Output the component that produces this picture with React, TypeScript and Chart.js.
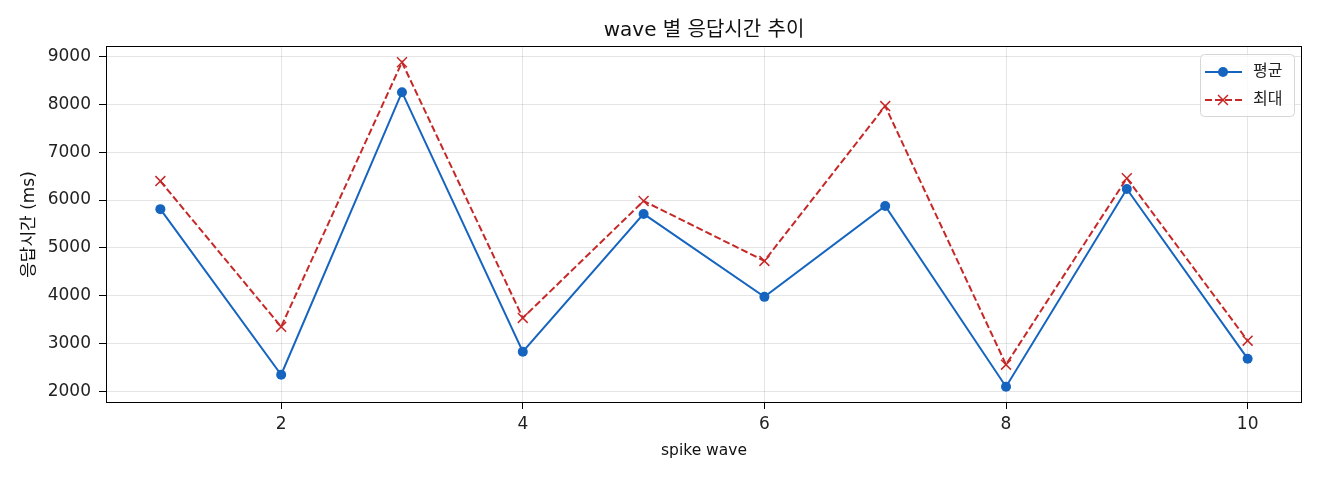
import React, { useEffect, useRef } from "react";
import { Chart, registerables } from "chart.js";

Chart.register(...registerables);

const waves = [1, 2, 3, 4, 5, 6, 7, 8, 9, 10];
const avgMs = [5810, 2355, 8250, 2835, 5710, 3980, 5875, 2105, 6230, 2690];
const maxMs = [6395, 3355, 8875, 3540, 5980, 4730, 7960, 2565, 6455, 3065];
const xTicks = [2, 4, 6, 8, 10];
const yTicks = [2000, 3000, 4000, 5000, 6000, 7000, 8000, 9000];

const FONT = "'DejaVu Sans', 'Noto Sans CJK KR', sans-serif";
const BLUE = "#1565c0";
const RED = "#c62828";

// black frame round the plot area
const framePlugin = {
  id: "frame",
  afterDatasetsDraw(chart: any) {
    const { ctx, chartArea: a } = chart;
    ctx.save();
    ctx.strokeStyle = "#000";
    ctx.lineWidth = 1;
    ctx.strokeRect(a.left + 0.5, a.top + 0.5, a.right - a.left - 1, a.bottom - a.top - 1);
    ctx.restore();
  },
};

function drawMarker(ctx: CanvasRenderingContext2D, style: string, cx: number, cy: number, r: number) {
  ctx.beginPath();
  if (style === "crossRot") {
    const d = r * Math.SQRT1_2;
    ctx.moveTo(cx - d, cy - d);
    ctx.lineTo(cx + d, cy + d);
    ctx.moveTo(cx - d, cy + d);
    ctx.lineTo(cx + d, cy - d);
    ctx.stroke();
  } else {
    ctx.arc(cx, cy, r, 0, Math.PI * 2);
    ctx.fill();
  }
}

// matplotlib-like legend box in the upper right corner
const legendPlugin = {
  id: "mplLegend",
  afterDraw(chart: any) {
    const { ctx, chartArea: a } = chart;
    const w = 94;
    const h = 62;
    const x = a.right - 8 - w;
    const y = a.top + 8;
    ctx.save();
    ctx.fillStyle = "rgba(255,255,255,0.8)";
    ctx.strokeStyle = "#d6d6d6";
    ctx.lineWidth = 1;
    ctx.beginPath();
    ctx.roundRect(x + 0.5, y + 0.5, w, h, 4);
    ctx.fill();
    ctx.stroke();
    chart.data.datasets.forEach((ds: any, i: number) => {
      const cy = y + 18 + i * 28;
      ctx.strokeStyle = ds.borderColor;
      ctx.lineWidth = ds.borderWidth;
      ctx.setLineDash(ds.borderDash || []);
      ctx.beginPath();
      ctx.moveTo(x + 5, cy);
      ctx.lineTo(x + 42, cy);
      ctx.stroke();
      ctx.setLineDash([]);
      ctx.fillStyle = ds.pointBackgroundColor;
      ctx.strokeStyle = ds.pointBorderColor;
      ctx.lineWidth = ds.pointBorderWidth || 1;
      drawMarker(ctx, ds.pointStyle, x + 23, cy, ds.pointRadius);
      ctx.fillStyle = "#222";
      ctx.font = `16px ${FONT}`;
      ctx.textBaseline = "middle";
      ctx.textAlign = "left";
      ctx.fillText(ds.label, x + 53, cy);
    });
    ctx.restore();
  },
};

const App: React.FC = () => {
  const canvasRef = useRef<HTMLCanvasElement | null>(null);

  useEffect(() => {
    document.body.style.margin = "0";
    if (!canvasRef.current) return;
    const ctx = canvasRef.current.getContext("2d");
    if (!ctx) return;

    const chart = new Chart(ctx, {
      type: "line",
      data: {
        datasets: [
          {
            label: "평균",
            data: waves.map((w, i) => ({ x: w, y: avgMs[i] })),
            borderColor: BLUE,
            backgroundColor: BLUE,
            borderWidth: 2,
            pointStyle: "circle",
            pointRadius: 5,
            pointBackgroundColor: BLUE,
            pointBorderColor: BLUE,
            pointBorderWidth: 0,
          },
          {
            label: "최대",
            data: waves.map((w, i) => ({ x: w, y: maxMs[i] })),
            borderColor: RED,
            backgroundColor: RED,
            borderWidth: 2,
            borderDash: [7, 3],
            pointStyle: "crossRot",
            pointRadius: 7,
            pointBackgroundColor: RED,
            pointBorderColor: RED,
            pointBorderWidth: 1.5,
          },
        ],
      },
      options: {
        animation: false,
        responsive: false,
        devicePixelRatio: 1,
        layout: { padding: { left: 0, right: 18, top: 0, bottom: 0 } },
        plugins: {
          legend: { display: false },
          tooltip: { enabled: false },
          title: {
            display: true,
            text: "wave 별 응답시간 추이",
            fullSize: false,
            color: "#111",
            font: { family: FONT, size: 20, weight: "normal" },
            padding: { top: 18.5, bottom: 3.5 },
          },
        },
        scales: {
          x: {
            type: "linear",
            min: 0.55,
            max: 10.45,
            afterBuildTicks: (s: any) => {
              s.ticks = xTicks.map((v) => ({ value: v }));
            },
            afterFit: (s: any) => {
              s.height = 77;
            },
            border: { display: false },
            grid: {
              color: "rgba(0,0,0,0.1)",
              tickColor: "#000",
              tickLength: 6,
              drawTicks: true,
            },
            ticks: {
              color: "#222",
              padding: 5,
              font: { family: FONT, size: 17 },
            },
            title: {
              display: true,
              text: "spike wave",
              color: "#111",
              font: { family: FONT, size: 15.5 },
              padding: { top: 0, bottom: 19.7 },
            },
          },
          y: {
            type: "linear",
            min: 1765,
            max: 9214,
            afterBuildTicks: (s: any) => {
              s.ticks = yTicks.map((v) => ({ value: v }));
            },
            afterFit: (s: any) => {
              s.width = 106;
            },
            border: { display: false },
            grid: {
              color: "rgba(0,0,0,0.1)",
              tickColor: "#000",
              tickLength: 7,
              drawTicks: true,
            },
            ticks: {
              color: "#222",
              padding: 8,
              font: { family: FONT, size: 17 },
              callback: (v: any) => String(v),
            },
            title: {
              display: true,
              text: "응답시간 (ms)",
              color: "#111",
              font: { family: FONT, size: 17 },
              padding: { top: 19.8, bottom: 0 },
            },
          },
        },
      },
      plugins: [framePlugin, legendPlugin],
    });

    return () => {
      chart.destroy();
    };
  }, []);

  return <canvas ref={canvasRef} width={1320} height={480} style={{ display: "block" }} />;
};

export default App;
